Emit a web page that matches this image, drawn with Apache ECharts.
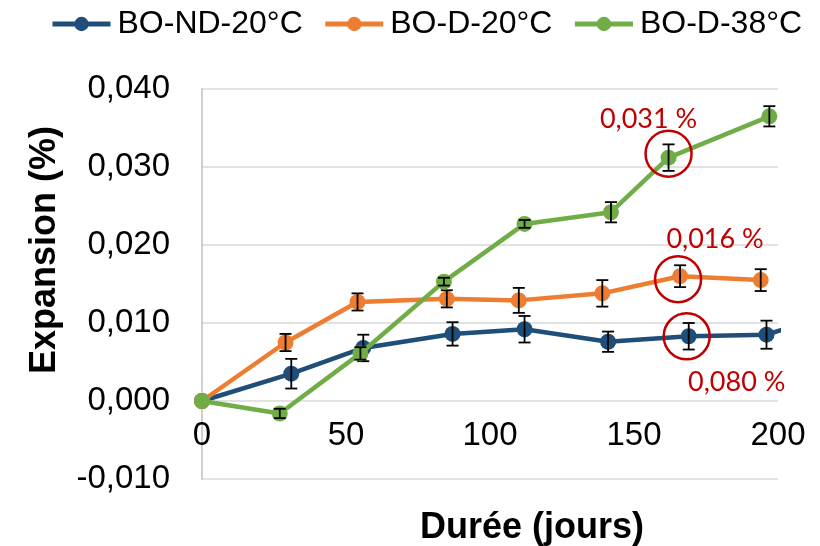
<!DOCTYPE html>
<html>
<head>
<meta charset="utf-8">
<script src="https://cdn.jsdelivr.net/npm/echarts@6/dist/echarts.min.js"></script>
<style>html,body{margin:0;padding:0;background:#fff}#c{width:820px;height:546px}</style>
</head>
<body>
<div id="c"></div>
<script>
// Series names
const seriesNames = ['BO-ND-20°C', 'BO-D-20°C', 'BO-D-38°C'];
const seriesColors = ['#1F4E79', '#ED7D31', '#70AD47'];

// BO-ND-20°C (last point continues past the axis end and is clipped)
const daysND = [0, 31, 56, 87, 112, 141, 169, 196, 225];
const valsND = [0, 0.0035, 0.0068, 0.0086, 0.0092, 0.0076, 0.0083, 0.0085, 0.0119];
const errND  = [0, 0.0019, 0.0017, 0.0015, 0.0017, 0.0013, 0.0017, 0.0018, 0];

// BO-D-20°C
const daysD20 = [0, 29, 54, 85, 110, 139, 166, 194];
const valsD20 = [0, 0.0075, 0.0127, 0.0131, 0.0129, 0.0138, 0.0160, 0.0155];
const errD20  = [0, 0.0011, 0.0011, 0.0011, 0.0016, 0.0017, 0.0014, 0.0014];

// BO-D-38°C
const daysD38 = [0, 27, 55, 84, 112, 142, 162, 197];
const valsD38 = [0, -0.0016, 0.0061, 0.0153, 0.0227, 0.0242, 0.0312, 0.0365];
const errD38  = [0, 0.0006, 0.0008, 0.0005, 0.0005, 0.0013, 0.0017, 0.0013];

// Highlighted points (index into each series) and their labels
const highlightIndex = [6, 6, 6];
const highlightLabels = ['0,080 %', '0,016 %', '0,031 %'];

// Axis settings
const xTicks = [0, 50, 100, 150, 200];
const yMin = -0.01, yMax = 0.04, yStep = 0.01;
const xTitle = 'Durée (jours)';
const yTitle = 'Expansion (%)';

const FONT = "'Liberation Sans', Arial, sans-serif";
const allDays = [daysND, daysD20, daysD38];
const allVals = [valsND, valsD20, valsD38];
const allErr = [errND, errD20, errD38];
const labelOffsets = [[48, 46], [35, -37], [-20, -38]];
const circleOffsets = [[-2, 0], [-2, 3], [0, -4]];

function errRender(params, api) {
  const x = api.value(0), lo = api.value(1), hi = api.value(2);
  const p1 = api.coord([x, lo]), p2 = api.coord([x, hi]);
  const w = 6;
  const st = { stroke: '#000', lineWidth: 1.8 };
  return {
    type: 'group',
    children: [
      { type: 'line', shape: { x1: p1[0], y1: p1[1], x2: p2[0], y2: p2[1] }, style: st },
      { type: 'line', shape: { x1: p1[0] - w, y1: p1[1], x2: p1[0] + w, y2: p1[1] }, style: st },
      { type: 'line', shape: { x1: p2[0] - w, y1: p2[1], x2: p2[0] + w, y2: p2[1] }, style: st }
    ]
  };
}

const series = [];
seriesNames.forEach((name, s) => {
  const d = allDays[s], v = allVals[s], e = allErr[s];
  const hi = highlightIndex[s];
  series.push({
    name: name,
    type: 'line',
    data: d.map((x, i) => [x, v[i]]),
    symbol: 'circle',
    symbolSize: 16,
    clip: true,
    z: 2 + s * 2,
    lineStyle: { width: 4.5, color: seriesColors[s] },
    itemStyle: { color: seriesColors[s] },
    emphasis: { disabled: true },
    animation: false,
    markPoint: {
      z: 20,
      symbol: 'circle',
      symbolSize: 46,
      symbolOffset: circleOffsets[s],
      itemStyle: { color: 'rgba(0,0,0,0)', borderColor: '#C00000', borderWidth: 2.5 },
      label: {
        show: true,
        position: 'inside',
        formatter: highlightLabels[s],
        color: '#C00000',
        fontFamily: "Lato, 'Noto Sans', sans-serif",
        fontSize: 27,
        offset: [labelOffsets[s][0] - circleOffsets[s][0], labelOffsets[s][1] - circleOffsets[s][1]]
      },
      data: [{ coord: [d[hi], v[hi]] }]
    }
  });
  series.push({
    type: 'custom',
    name: name + ' err',
    z: 3 + s * 2,
    clip: true,
    silent: true,
    animation: false,
    encode: { x: 0, y: [1, 2] },
    data: d.map((x, i) => [x, v[i] - e[i], v[i] + e[i]]).filter((r, i) => e[i] > 0),
    renderItem: errRender
  });
});

const chart = echarts.init(document.getElementById('c'), null, { renderer: 'canvas' });
chart.setOption({
  animation: false,
  backgroundColor: '#fff',
  legend: {
    data: seriesNames,
    left: 45,
    top: 3,
    itemGap: 20,
    itemWidth: 58,
    itemHeight: 18,
    lineStyle: { width: 5 },
    textStyle: { fontFamily: FONT, fontSize: 32, color: '#000', padding: [0, 0, 0, 2] }
  },
  grid: { left: 202, right: 42, top: 89, bottom: 67, containLabel: false, outerBoundsMode: 'none' },
  xAxis: {
    type: 'value',
    min: xTicks[0],
    max: xTicks[xTicks.length - 1],
    interval: xTicks[1] - xTicks[0],
    name: xTitle,
    nameLocation: 'middle',
    nameGap: 31,
    nameTextStyle: { fontFamily: FONT, fontSize: 36, fontWeight: 'bold', color: '#000', padding: [0, 0, 0, 84] },
    axisLine: { show: false, onZero: false },
    axisTick: { show: false },
    splitLine: { show: false },
    axisLabel: { fontFamily: FONT, fontSize: 33, color: '#000', margin: -60 }
  },
  yAxis: {
    type: 'value',
    min: yMin,
    max: yMax,
    interval: yStep,
    name: yTitle,
    nameLocation: 'middle',
    nameRotate: 90,
    nameGap: 139,
    nameTextStyle: { fontFamily: FONT, fontSize: 36, fontWeight: 'bold', color: '#000', padding: [0, 0, 0, 68] },
    axisLine: { show: true, onZero: false, lineStyle: { color: '#BFBFBF', width: 1.5 } },
    axisTick: { show: false },
    splitLine: { show: true, lineStyle: { color: '#D9D9D9', width: 1.5 } },
    axisLabel: {
      fontFamily: FONT, fontSize: 33, color: '#000', margin: 32,
      formatter: v => v.toFixed(3).replace('.', ',')
    }
  },
  series: series
});
</script>
</body>
</html>
